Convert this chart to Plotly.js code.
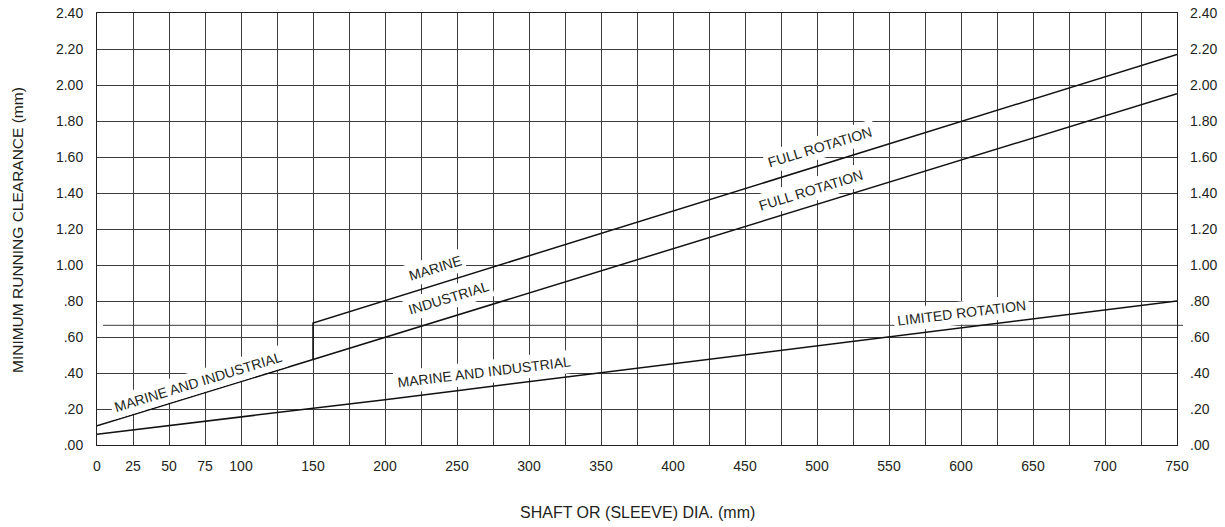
<!DOCTYPE html>
<html>
<head>
<meta charset="utf-8">
<script src="https://cdn.plot.ly/plotly-3.0.1.min.js"></script>
<style>
  html, body { margin: 0; padding: 0; background: #fff; }
  #chart { width: 1225px; height: 527px; }
</style>
</head>
<body>
<div id="chart"></div>
<script>
// Shaft / sleeve diameter (mm) vs minimum running clearance (mm)

// Limited rotation, marine and industrial
const limitedX = [0, 50, 100, 150, 200, 250, 300, 350, 400, 450, 500, 550, 600, 650, 700, 750];
const limitedY = [0.06, 0.107, 0.157, 0.203, 0.252, 0.302, 0.352, 0.401, 0.45, 0.50, 0.55, 0.601, 0.651, 0.702, 0.752, 0.80];

// Full rotation, marine and industrial shared up to 150 mm
const sharedX = [0, 150];
const sharedY = [0.107, 0.475];

// Full rotation, industrial above 150 mm
const industrialX = [150, 750];
const industrialY = [0.475, 1.952];

// Full rotation, marine above 150 mm (step at 150 mm)
const marineX = [150, 150, 750];
const marineY = [0.475, 0.678, 2.17];

// Horizontal reference level
const refLevel = 0.665;

// Axes
const yMax = 2.4;
const xMax = 750;
const yTickVals = [0, 0.2, 0.4, 0.6, 0.8, 1.0, 1.2, 1.4, 1.6, 1.8, 2.0, 2.2, 2.4];
const yTickText = ['.00', '.20', '.40', '.60', '.80', '1.00', '1.20', '1.40', '1.60', '1.80', '2.00', '2.20', '2.40'];
const xTickVals = [];
for (let v = 0; v <= xMax; v += 25) xTickVals.push(v);
const xLabelled = [0, 25, 50, 75, 100, 150, 200, 250, 300, 350, 400, 450, 500, 550, 600, 650, 700, 750];
const xTickText = xTickVals.map(v => xLabelled.includes(v) ? String(v) : '');

// Curve labels
const curveLabels = [
  { text: 'MARINE AND INDUSTRIAL', x: 70, y: 0.35, angle: -17 },
  { text: 'MARINE', x: 235, y: 0.983, angle: -17 },
  { text: 'INDUSTRIAL', x: 244, y: 0.817, angle: -17 },
  { text: 'FULL ROTATION', x: 502, y: 1.656, angle: -17 },
  { text: 'FULL ROTATION', x: 496, y: 1.417, angle: -17 },
  { text: 'MARINE AND INDUSTRIAL', x: 269, y: 0.405, angle: -7 },
  { text: 'LIMITED ROTATION', x: 600, y: 0.733, angle: -7 }
];

const xTitle = 'SHAFT OR (SLEEVE) DIA. (mm)';
const yTitle = 'MINIMUM RUNNING CLEARANCE (mm)';

const ink = '#231f20';
const gridInk = '#3c3c3c';
const family = 'Liberation Sans, Arial, Helvetica, sans-serif';
const font = { family: family, size: 14, color: ink };

const lineStyle = { color: '#111', width: 1.5 };
const traces = [
  { x: limitedX, y: limitedY, mode: 'lines', line: lineStyle, hoverinfo: 'skip', showlegend: false },
  { x: sharedX, y: sharedY, mode: 'lines', line: lineStyle, hoverinfo: 'skip', showlegend: false },
  { x: industrialX, y: industrialY, mode: 'lines', line: lineStyle, hoverinfo: 'skip', showlegend: false },
  { x: marineX, y: marineY, mode: 'lines', line: lineStyle, hoverinfo: 'skip', showlegend: false }
];

const annotations = curveLabels.map(l => ({
  text: l.text, x: l.x, y: l.y, xref: 'x', yref: 'y',
  showarrow: false, textangle: l.angle, bgcolor: '#ffffff', borderpad: 3,
  font: font, xanchor: 'center', yanchor: 'middle'
}));
annotations.push({
  text: xTitle, xref: 'paper', yref: 'paper', x: 0.5, y: -0.157,
  showarrow: false, font: { family: family, size: 16, color: ink }, xanchor: 'center', yanchor: 'middle'
});
annotations.push({
  text: yTitle, xref: 'paper', yref: 'paper', x: -0.073, y: 0.498,
  showarrow: false, textangle: -90, font: { family: family, size: 15.5, color: ink }, xanchor: 'center', yanchor: 'middle'
});

const layout = {
  width: 1225, height: 527,
  margin: { l: 97, r: 48, t: 13, b: 82 },
  paper_bgcolor: '#fff', plot_bgcolor: '#fff',
  font: font,
  showlegend: false,
  xaxis: {
    range: [0, xMax], tickmode: 'array', tickvals: xTickVals, ticktext: xTickText,
    ticks: '', ticklabelstandoff: 8, showgrid: true, gridcolor: gridInk, gridwidth: 1,
    zeroline: false, showline: true, linecolor: ink, linewidth: 1, mirror: true,
    tickfont: font, fixedrange: true
  },
  yaxis: {
    range: [0, yMax], tickmode: 'array', tickvals: yTickVals, ticktext: yTickText,
    ticks: '', ticklabelstandoff: 10, showgrid: true, gridcolor: gridInk, gridwidth: 1,
    zeroline: false, showline: true, linecolor: ink, linewidth: 1, mirror: true,
    tickfont: font, fixedrange: true
  },
  yaxis2: {
    range: [0, yMax], tickmode: 'array', tickvals: yTickVals, ticktext: yTickText,
    overlaying: 'y', side: 'right', anchor: 'x',
    ticks: '', ticklabelstandoff: 12, showgrid: false, zeroline: false, showline: false,
    tickfont: font, fixedrange: true
  },
  shapes: [{
    type: 'line', xref: 'paper', yref: 'paper',
    x0: 0.0056, x1: 1.0056, y0: refLevel / yMax, y1: refLevel / yMax,
    line: { color: gridInk, width: 1 }, layer: 'below'
  }],
  annotations: annotations
};

// invisible point on the right-hand axis so its labels are drawn
traces.push({ x: [0], y: [0], yaxis: 'y2', mode: 'markers', marker: { opacity: 0 }, hoverinfo: 'skip', showlegend: false });

Plotly.newPlot('chart', traces, layout, { displayModeBar: false, staticPlot: true });
</script>
</body>
</html>
